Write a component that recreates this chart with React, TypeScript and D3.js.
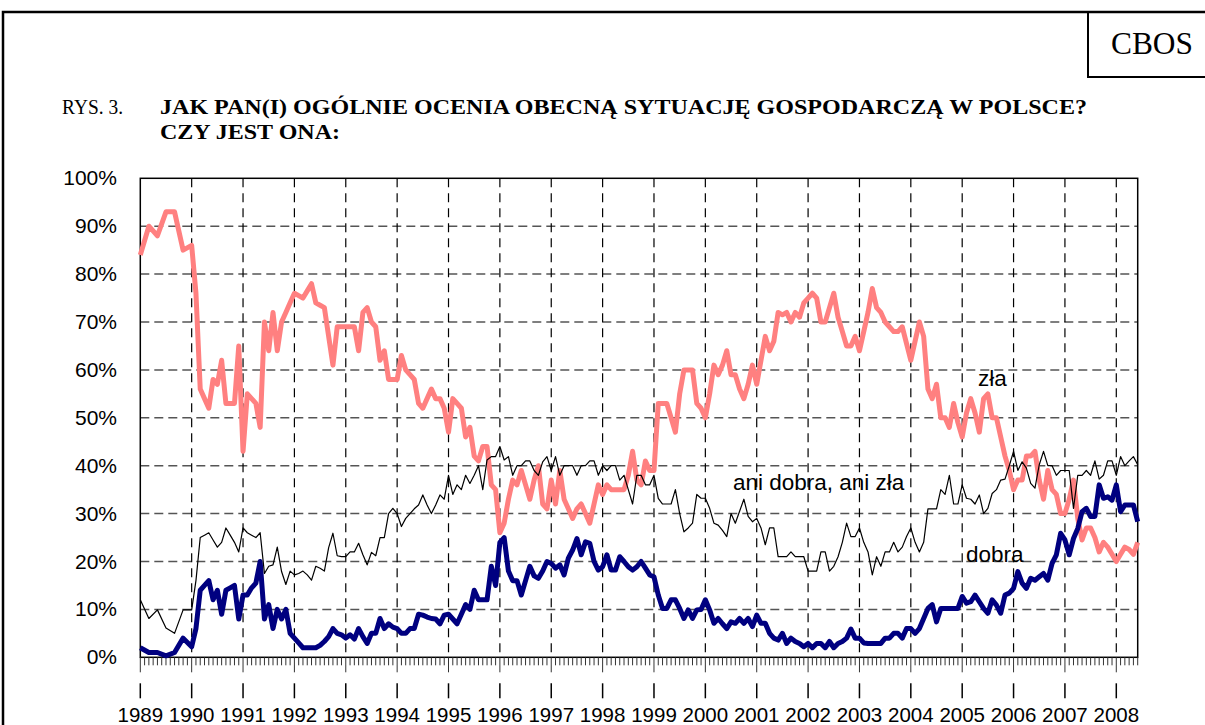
import * as d3 from 'd3'

// month index 0 = Jan 1989; 1989 surveyed every second month, then monthly
const surveyMonths: number[] = [0, 2, 4, 6, 8, 10, ...d3.range(12, 234)]

const zla: number[] = [
  84, 90, 88, 93, 93, 85,
  86, 76, 56, 54, 52, 58, 57, 62, 53, 53, 53, 65,
  43, 55, 54, 53, 48, 70, 64, 72, 64, 70, 72, 74,
  76, 75.5, 75, 76.5, 78, 74, 73.5, 73, 67, 61, 69, 69,
  69, 69, 69, 64, 72, 73, 70, 69, 62, 64, 58, 58,
  58, 63, 60, 59, 58, 53, 52, 54, 56, 54, 54, 52,
  47, 54, 53, 52, 46, 48, 42, 41, 44, 44, 36, 35,
  26, 28, 33, 37, 36, 39, 36, 33, 37, 40, 32, 31,
  37, 32, 39, 33, 31, 29, 31, 32, 30, 28, 32, 36,
  34, 36, 35, 35, 35, 35, 38, 43, 37, 36, 41, 39,
  39, 53, 53, 53, 50, 47, 55, 60, 60, 60, 53, 52,
  50, 55, 61, 59, 61, 64, 59, 59, 56, 54, 57, 61,
  57, 62, 67, 64, 66, 72, 71.5, 72, 70, 72, 71, 74,
  75, 76, 75, 70, 70, 73, 76, 71, 68, 65, 65, 67,
  64, 68, 72, 77, 73, 72, 70, 69, 68, 68, 69, 65.5,
  62, 66, 70, 67, 56, 54, 57, 50, 50, 48, 53, 49,
  46, 51, 54, 51, 47, 54, 55, 50, 50, 46, 42, 39,
  35, 37, 37, 42, 42, 43, 37, 33, 39, 35, 34, 30,
  30, 33, 37, 29, 24.5, 27, 27, 25, 22, 24, 23, 21.5,
  20, 21.5, 23, 22.5, 21.5, 24,
]

const dobra: number[] = [
  2, 1, 1, 0.3, 1, 4,
  2.2, 6, 14, 15, 16, 12, 14, 9, 14, 14.5, 15, 8,
  13, 13, 14.5, 15.5, 20, 8, 11, 6, 10, 8, 10, 5,
  4, 3, 2, 2, 2, 2, 2.5, 3.3, 4.3, 6, 5, 4.7,
  4, 4.7, 3.8, 6, 4.3, 2.9, 5, 5, 8.1, 6, 7, 6.3,
  6, 5, 5, 6, 6, 9, 8.8, 8.4, 8.1, 8, 7, 8.8,
  9, 8, 7, 9, 11, 10, 14, 12, 12, 12, 19, 15,
  24, 25, 18, 16, 16, 13, 16, 19, 17, 16.5, 18, 20,
  19.6, 18.6, 19.3, 17.2, 20.7, 22.4, 24.8, 21.4, 24.1, 23.8, 20, 18.2,
  18.9, 21.4, 18.2, 18.2, 21, 20, 18.9, 18.2, 18.9, 20, 18.6, 17.2,
  16.8, 13, 10.2, 10.2, 12, 12, 10.2, 8.1, 9.9, 8.1, 9.9, 10,
  12, 9.9, 7.1, 8.1, 7, 6, 7.4, 7.1, 8.1, 7.1, 8.1, 6.4,
  8.8, 7.1, 7.1, 5, 4, 3.6, 5, 2.9, 4, 3.3, 2.9, 2.2,
  2.9, 2, 2.9, 2.9, 2, 3.3, 2, 2.9, 3.3, 4, 5.9, 4,
  4, 3, 2.9, 2.9, 2.9, 2.9, 4, 4, 5, 5, 4, 6,
  6, 5, 6, 8.1, 10.2, 11, 7.4, 10.2, 10.2, 10.2, 10.2, 10.2,
  12.7, 11.3, 11.6, 13, 11.6, 10.2, 9.2, 12, 10.9, 9.2, 13, 13.4,
  14.4, 17.9, 15.5, 14.4, 16.5, 16.1, 16.8, 17.5, 16.1, 19.6, 21.4, 25.9,
  24.5, 21.4, 24.8, 26.9, 30.4, 31.1, 29.4, 29.4, 36, 33.2, 33.5, 32.8,
  36, 30.4, 31.8, 31.8, 31.8, 28.3,
]

const aniDobraAniZla: number[] = [
  12, 8.1, 9.9, 6.1, 5, 9.9,
  9.9, 16, 25, 25.5, 26, 24.5, 23, 24, 27, 25.5, 24, 22,
  27, 26, 25.5, 25, 26, 17.5, 19, 19.3, 23, 17.9, 15.2, 18,
  17.2, 17.5, 18, 17.2, 16.1, 19, 18.6, 18, 22.9, 25.9, 21.2, 21,
  21, 22, 22, 23.8, 21.4, 19.3, 21.9, 21.2, 25, 25, 30, 31.1,
  30, 27.3, 29, 30, 31, 31.8, 33.9, 31.8, 30, 31.8, 33.9, 33,
  38, 34, 36, 35, 38, 36.3, 38, 40, 35, 41.2, 41.9, 41.9,
  44, 41.2, 41.9, 38, 40, 40, 41, 41, 39, 38, 40.8, 41.9,
  39, 41.9, 38, 40, 40, 40, 38, 40, 40, 41, 41, 38,
  40, 39, 40, 40, 37, 38, 35, 32, 38, 38, 36, 36,
  38, 33.2, 32, 32, 32, 35, 30, 26.2, 27, 28, 34, 33.2,
  33.2, 31.1, 28, 27.6, 26.5, 25.2, 30, 28, 30.5, 33, 29.4, 28.3,
  29, 27, 23.5, 27, 27, 21, 21, 21, 22, 21, 21, 21,
  18, 18, 18, 22, 22, 18, 19, 21, 24, 28, 25.2, 25.2,
  27, 24, 22, 17.2, 21, 19, 22, 22, 24, 22, 23, 25.2,
  27, 24, 22, 24, 31, 31, 31, 35, 34, 38, 32, 32,
  36, 33.2, 33, 32, 33.9, 30, 31.1, 34.2, 35, 37, 37.2, 40,
  43, 39, 40.8, 39.5, 36.3, 35.3, 40.2, 43, 40, 40, 38, 39,
  39, 39, 31.1, 38, 38, 39, 38, 41, 37.2, 38, 41, 41,
  38, 41.9, 40, 41, 41.9, 40.2,
]

const yearLabels: string[] = [
  '1989', '1990', '1991', '1992', '1993', '1994', '1995', '1996', '1997', '1998',
  '1999', '2000', '2001', '2002', '2003', '2004', '2005', '2006', '2007', '2008',
]
const yTickValues: number[] = [0, 10, 20, 30, 40, 50, 60, 70, 80, 90, 100]

const SANS = 'Liberation Sans, Arial, sans-serif'
const SERIF = 'Liberation Serif, Times New Roman, serif'

const x = d3.scaleLinear().domain([0, 233]).range([140.3, 1137.7])
const y = d3.scaleLinear().domain([0, 100]).range([657.3, 178.3])

const lineFor = d3
  .line<number>()
  .x((_d, i) => x(surveyMonths[i]))
  .y((d) => y(d))

const App = () => {
  const [x0, x1] = x.range()
  const [yb, yt] = y.range()
  const allMonths = d3.range(0, 234)
  return (
    <svg
      width={1205}
      height={725}
      style={{ position: 'absolute', left: 0, top: 0, background: '#fff' }}
    >
      {/* page frame */}
      <path d="M3,725 V12 H1205" fill="none" stroke="#000" strokeWidth={2.5} />
      <path d="M1088,12 V77 H1205" fill="none" stroke="#000" strokeWidth={2} />
      <text x={1111} y={54} fontFamily={SERIF} fontSize={31} textLength={82} lengthAdjust="spacingAndGlyphs">
        CBOS
      </text>

      {/* title */}
      <text x={62} y={114} fontFamily={SERIF} fontSize={20} textLength={61} lengthAdjust="spacingAndGlyphs">
        RYS. 3.
      </text>
      <text x={160} y={114} fontFamily={SERIF} fontSize={20.5} fontWeight="bold" textLength={927} lengthAdjust="spacingAndGlyphs">
        JAK PAN(I) OGÓLNIE OCENIA OBECNĄ SYTUACJĘ GOSPODARCZĄ W POLSCE?
      </text>
      <text x={160} y={139} fontFamily={SERIF} fontSize={20.5} fontWeight="bold" textLength={180} lengthAdjust="spacingAndGlyphs">
        CZY JEST ONA:
      </text>

      {/* horizontal grid */}
      {yTickValues
        .filter((v) => v > 0 && v < 100)
        .map((v) => (
          <line key={'h' + v} x1={x0} x2={x1} y1={y(v)} y2={y(v)} stroke="#555" strokeWidth={1.5} strokeDasharray="9,5" />
        ))}
      {/* vertical grid at years */}
      {yearLabels.slice(1).map((lab, i) => {
        const xx = x((i + 1) * 12)
        return <line key={'v' + lab} x1={xx} x2={xx} y1={yt} y2={yb} stroke="#000" strokeWidth={1.2} strokeDasharray="9,6" />
      })}

      {/* plot frame */}
      <rect x={x0} y={yt} width={x1 - x0} height={yb - yt} fill="none" stroke="#000" strokeWidth={1.5} />

      {/* month ticks */}
      {allMonths.map((m) => (
        <line key={'t' + m} x1={x(m)} x2={x(m)} y1={yb} y2={m % 12 === 0 ? yb + 15 : yb + 8} stroke="#333" strokeWidth={1} />
      ))}
      {yearLabels.map((lab, i) => (
        <line key={'d' + lab} x1={x(i * 12)} x2={x(i * 12)} y1={yb + 26} y2={yb + 41} stroke="#000" strokeWidth={1.5} />
      ))}

      {/* axis labels */}
      {yTickValues.map((v) => (
        <text key={'yl' + v} x={117} y={y(v) + 7} textAnchor="end" fontFamily={SANS} fontSize={21}>
          {v}%
        </text>
      ))}
      {yearLabels.map((lab, i) => (
        <text key={'xl' + lab} x={x(i * 12)} y={722} textAnchor="middle" fontFamily={SANS} fontSize={20.5}>
          {lab}
        </text>
      ))}

      {/* series */}
      <path d={lineFor(zla) ?? ''} fill="none" stroke="#FF8080" strokeWidth={5} strokeLinejoin="round" />
      <path d={lineFor(dobra) ?? ''} fill="none" stroke="#000080" strokeWidth={5} strokeLinejoin="round" />
      <path d={lineFor(aniDobraAniZla) ?? ''} fill="none" stroke="#000" strokeWidth={1.2} strokeLinejoin="round" />

      {/* series labels */}
      <text x={978} y={386} fontFamily={SANS} fontSize={22.5}>zła</text>
      <text x={733} y={490} fontFamily={SANS} fontSize={22.5}>ani dobra, ani zła</text>
      <text x={966} y={562} fontFamily={SANS} fontSize={22.5}>dobra</text>
    </svg>
  )
}

export default App
